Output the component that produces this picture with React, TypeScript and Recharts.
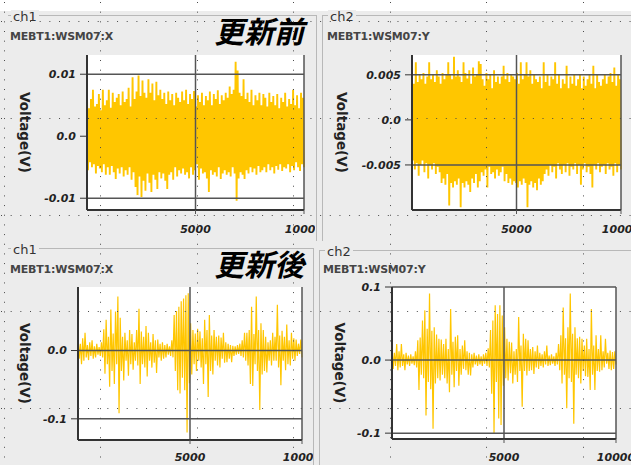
import React from 'react';
import { LineChart, Line, XAxis, YAxis, ReferenceLine, Label, CartesianGrid } from 'recharts';

// shared x axis (sample number)
const xTicks = [5000, 10000];
const xTickLabels = ['5000', '10000'];

// 更新前 ch1 MEBT1:WSM07:X  - upper / lower envelope of each pixel column (V)
const preXHi = [
  0.0070, 0.0045, 0.0060, 0.0075, 0.0048, 0.0052, 0.0068, 0.0042, 0.0075, 0.0050,
  0.0058, 0.0075, 0.0046, 0.0070, 0.0055, 0.0062, 0.0068, 0.0050, 0.0072, 0.0055,
  0.0060, 0.0078, 0.0048, 0.0095, 0.0060, 0.0072, 0.0098, 0.0065, 0.0090, 0.0070,
  0.0062, 0.0092, 0.0070, 0.0085, 0.0058, 0.0088, 0.0066, 0.0075, 0.0060, 0.0070,
  0.0052, 0.0072, 0.0058, 0.0068, 0.0050, 0.0070, 0.0062, 0.0055, 0.0072, 0.0058,
  0.0075, 0.0052, 0.0068, 0.0060, 0.0073, 0.0048, 0.0066, 0.0055, 0.0070, 0.0050,
  0.0065, 0.0058, 0.0072, 0.0050, 0.0068, 0.0060, 0.0074, 0.0052, 0.0066, 0.0058,
  0.0070, 0.0062, 0.0080, 0.0068, 0.0075, 0.0120, 0.0106, 0.0070, 0.0065, 0.0092,
  0.0060, 0.0070, 0.0055, 0.0075, 0.0050, 0.0066, 0.0058, 0.0070, 0.0050, 0.0068,
  0.0062, 0.0048, 0.0070, 0.0055, 0.0065, 0.0050, 0.0068, 0.0045, 0.0062, 0.0055,
  0.0070, 0.0048, 0.0060, 0.0052, 0.0075, 0.0050, 0.0066, 0.0045, 0.0070, 0.0062,
];
const preXLo = [
  -0.0055, -0.0042, -0.0050, -0.0045, -0.0060, -0.0048, -0.0052, -0.0058, -0.0045, -0.0062,
  -0.0050, -0.0062, -0.0048, -0.0058, -0.0069, -0.0052, -0.0060, -0.0050, -0.0065, -0.0055,
  -0.0062, -0.0050, -0.0070, -0.0058, -0.0082, -0.0095, -0.0065, -0.0098, -0.0072, -0.0088,
  -0.0060, -0.0075, -0.0090, -0.0062, -0.0070, -0.0085, -0.0058, -0.0068, -0.0060, -0.0072,
  -0.0085, -0.0062, -0.0058, -0.0070, -0.0050, -0.0065, -0.0055, -0.0060, -0.0052, -0.0062,
  -0.0058, -0.0068, -0.0050, -0.0062, -0.0055, -0.0045, -0.0070, -0.0052, -0.0060, -0.0058,
  -0.0068, -0.0090, -0.0055, -0.0062, -0.0058, -0.0065, -0.0050, -0.0069, -0.0060, -0.0055,
  -0.0062, -0.0058, -0.0065, -0.0050, -0.0060, -0.0104, -0.0068, -0.0058, -0.0062, -0.0069,
  -0.0055, -0.0060, -0.0050, -0.0058, -0.0052, -0.0062, -0.0048, -0.0058, -0.0055, -0.0050,
  -0.0058, -0.0045, -0.0055, -0.0050, -0.0060, -0.0048, -0.0054, -0.0045, -0.0056, -0.0050,
  -0.0052, -0.0045, -0.0058, -0.0048, -0.0055, -0.0042, -0.0050, -0.0056, -0.0045, -0.0050,
];
const preXTicks = [-0.01, 0, 0.01];
const preXTickLabels = ['-0.01', '0.0', '0.01'];

// 更新前 ch2 MEBT1:WSM07:Y
const preYHi = [
  0.0045, 0.0040, 0.0064, 0.0042, 0.0050, 0.0045, 0.0052, 0.0040, 0.0048, 0.0064,
  0.0045, 0.0050, 0.0042, 0.0055, 0.0048, 0.0040, 0.0052, 0.0045, 0.0050, 0.0064,
  0.0050, 0.0045, 0.0070, 0.0048, 0.0055, 0.0048, 0.0042, 0.0064, 0.0052, 0.0046,
  0.0055, 0.0040, 0.0058, 0.0048, 0.0050, 0.0065, 0.0062, 0.0045, 0.0038, 0.0052,
  0.0045, 0.0050, 0.0035, 0.0055, 0.0042, 0.0048, 0.0040, 0.0048, 0.0060, 0.0045,
  0.0052, 0.0042, 0.0050, 0.0048, 0.0045, 0.0052, 0.0040, 0.0064, 0.0045, 0.0050,
  0.0064, 0.0048, 0.0055, 0.0040, 0.0050, 0.0045, 0.0042, 0.0048, 0.0035, 0.0064,
  0.0042, 0.0050, 0.0038, 0.0048, 0.0045, 0.0064, 0.0040, 0.0050, 0.0035, 0.0045,
  0.0040, 0.0060, 0.0035, 0.0048, 0.0040, 0.0050, 0.0038, 0.0045, 0.0050, 0.0035,
  0.0048, 0.0038, 0.0045, 0.0050, 0.0040, 0.0060, 0.0035, 0.0050, 0.0042, 0.0038,
  0.0045, 0.0050, 0.0040, 0.0048, 0.0052, 0.0042, 0.0058, 0.0038, 0.0050, 0.0045,
];
const preYLo = [
  -0.0045, -0.0055, -0.0048, -0.0062, -0.0050, -0.0045, -0.0058, -0.0048, -0.0065, -0.0050,
  -0.0055, -0.0048, -0.0060, -0.0052, -0.0058, -0.0070, -0.0065, -0.0072, -0.0060, -0.0095,
  -0.0070, -0.0075, -0.0068, -0.0072, -0.0065, -0.0097, -0.0070, -0.0075, -0.0068, -0.0072,
  -0.0080, -0.0065, -0.0070, -0.0060, -0.0075, -0.0068, -0.0058, -0.0062, -0.0055, -0.0075,
  -0.0052, -0.0060, -0.0058, -0.0065, -0.0055, -0.0062, -0.0058, -0.0052, -0.0068, -0.0060,
  -0.0070, -0.0065, -0.0072, -0.0068, -0.0070, -0.0075, -0.0068, -0.0072, -0.0065, -0.0070,
  -0.0097, -0.0072, -0.0068, -0.0075, -0.0070, -0.0078, -0.0065, -0.0072, -0.0068, -0.0060,
  -0.0055, -0.0062, -0.0050, -0.0058, -0.0052, -0.0065, -0.0048, -0.0055, -0.0060, -0.0050,
  -0.0058, -0.0048, -0.0062, -0.0052, -0.0055, -0.0048, -0.0060, -0.0050, -0.0072, -0.0055,
  -0.0048, -0.0058, -0.0052, -0.0060, -0.0075, -0.0050, -0.0055, -0.0048, -0.0058, -0.0052,
  -0.0050, -0.0060, -0.0048, -0.0055, -0.0052, -0.0062, -0.0048, -0.0058, -0.0050, -0.0055,
];
const preYTicks = [-0.005, 0, 0.005];
const preYTickLabels = ['-0.005', '0.0', '0.005'];

// 更新後 ch1 MEBT1:WSM07:X
const postXHi = [
  0.022, 0.010, 0.018, 0.026, 0.008, 0.012, 0.015, 0.006, 0.010, 0.005,
  0.012, 0.031, 0.045, 0.020, 0.060, 0.025, 0.057, 0.079, 0.048, 0.020,
  0.026, 0.015, 0.030, 0.024, 0.012, 0.030, 0.061, 0.028, 0.020, 0.036,
  0.026, 0.012, 0.024, 0.015, 0.016, 0.010, 0.012, 0.008, 0.010, 0.006,
  0.015, 0.052, 0.058, 0.064, 0.072, 0.076, 0.081, 0.084, 0.040, 0.030,
  0.025, 0.032, 0.028, 0.018, 0.045, 0.030, 0.052, 0.022, 0.030, 0.020,
  0.022, 0.019, 0.026, 0.012, 0.010, 0.008, 0.007, 0.006, 0.008, 0.010,
  0.015, 0.026, 0.026, 0.030, 0.064, 0.024, 0.079, 0.030, 0.040, 0.030,
  0.020, 0.012, 0.015, 0.026, 0.020, 0.067, 0.022, 0.029, 0.020, 0.038,
  0.015, 0.026, 0.018, 0.016, 0.010, 0.016,
];
const postXLo = [
  -0.012, -0.020, -0.015, -0.010, -0.014, -0.008, -0.012, -0.010, -0.006, -0.008,
  -0.010, -0.034, -0.020, -0.053, -0.030, -0.049, -0.020, -0.092, -0.030, -0.044,
  -0.015, -0.037, -0.020, -0.028, -0.015, -0.022, -0.049, -0.020, -0.025, -0.038,
  -0.015, -0.025, -0.018, -0.033, -0.010, -0.015, -0.012, -0.010, -0.006, -0.008,
  -0.010, -0.030, -0.058, -0.063, -0.040, -0.058, -0.120, -0.048, -0.035, -0.020,
  -0.030, -0.015, -0.025, -0.049, -0.020, -0.068, -0.030, -0.035, -0.015, -0.022,
  -0.025, -0.012, -0.018, -0.017, -0.012, -0.017, -0.008, -0.006, -0.005, -0.008,
  -0.010, -0.015, -0.022, -0.049, -0.052, -0.020, -0.030, -0.087, -0.035, -0.030,
  -0.032, -0.015, -0.022, -0.015, -0.015, -0.025, -0.051, -0.015, -0.029, -0.020,
  -0.022, -0.012, -0.015, -0.008, -0.005, -0.010,
];
const postXTicks = [-0.1, 0];
const postXTickLabels = ['-0.1', '0.0'];

// 更新後 ch2 MEBT1:WSM07:Y
const postYHi = [
  0.018, 0.010, 0.022, 0.012, 0.022, 0.008, 0.010, 0.006, 0.008, 0.005,
  0.012, 0.027, 0.031, 0.054, 0.068, 0.043, 0.091, 0.040, 0.045, 0.035,
  0.029, 0.028, 0.022, 0.029, 0.015, 0.070, 0.025, 0.032, 0.034, 0.015,
  0.020, 0.027, 0.012, 0.010, 0.008, 0.010, 0.006, 0.008, 0.005, 0.008,
  0.010, 0.016, 0.041, 0.054, 0.075, 0.063, 0.075, 0.061, 0.045, 0.029,
  0.025, 0.024, 0.012, 0.015, 0.059, 0.020, 0.036, 0.029, 0.027, 0.015,
  0.018, 0.012, 0.020, 0.010, 0.008, 0.012, 0.020, 0.006, 0.008, 0.005,
  0.010, 0.022, 0.034, 0.072, 0.030, 0.045, 0.091, 0.036, 0.045, 0.030,
  0.032, 0.029, 0.020, 0.029, 0.015, 0.070, 0.020, 0.034, 0.015, 0.034,
  0.012, 0.029, 0.010, 0.013, 0.011, 0.012,
];
const postYLo = [
  -0.012, -0.008, -0.014, -0.010, -0.008, -0.014, -0.006, -0.008, -0.005, -0.007,
  -0.010, -0.041, -0.020, -0.025, -0.076, -0.030, -0.040, -0.094, -0.032, -0.025,
  -0.028, -0.020, -0.025, -0.032, -0.044, -0.020, -0.037, -0.015, -0.035, -0.020,
  -0.012, -0.014, -0.020, -0.021, -0.010, -0.006, -0.008, -0.006, -0.008, -0.005,
  -0.008, -0.010, -0.046, -0.100, -0.030, -0.080, -0.089, -0.035, -0.025, -0.028,
  -0.018, -0.032, -0.020, -0.030, -0.015, -0.064, -0.015, -0.021, -0.015, -0.014,
  -0.019, -0.010, -0.012, -0.008, -0.010, -0.006, -0.008, -0.007, -0.005, -0.008,
  -0.006, -0.014, -0.032, -0.020, -0.066, -0.025, -0.030, -0.087, -0.020, -0.025,
  -0.032, -0.015, -0.022, -0.023, -0.041, -0.020, -0.041, -0.015, -0.016, -0.014,
  -0.010, -0.005, -0.012, -0.014, -0.012, -0.006,
];
const postYTicks = [-0.1, 0, 0.1];
const postYTickLabels = ['-0.1', '0.0', '0.1'];

const TRACE = '#ffc600';
const GRID = '#555';
const FONT = '"DejaVu Sans", Verdana, sans-serif';

// hi/lo columns -> zigzag trace spanning 0..10000 samples
const buildTrace = (hi: number[], lo: number[]) => {
  const step = 10000 / (hi.length - 0.5);
  const out: { t: number; v: number }[] = [];
  hi.forEach((h, i) => {
    out.push({ t: i * step, v: h });
    out.push({ t: (i + 0.5) * step, v: lo[i] });
  });
  return out;
};

const tickStyle = { fill: '#222', fontSize: 11, fontWeight: 'bold', fontStyle: 'italic', fontFamily: FONT };

const VoltLabel = ({ viewBox, dx }: any) => {
  const x = viewBox.x + dx;
  const y = viewBox.y + viewBox.height / 2;
  return (
    <text
      x={x}
      y={y}
      transform={`rotate(90 ${x} ${y})`}
      textAnchor="middle"
      dominantBaseline="central"
      fill="#222"
      fontSize={13.5}
      fontWeight="bold"
      fontFamily={FONT}
    >
      Voltage(V)
    </text>
  );
};

interface ScopeProps {
  hi: number[];
  lo: number[];
  yTicks: number[];
  yLabels: string[];
  yGrid: number[];
  yDomain: [number, number];
  left: number;
  top: number;
  width: number;
  height: number;
  yWidth: number;
  right: number;
  xTickMargin: number;
  labelDx: number;
  traceWidth: number;
}

const Scope: React.FC<ScopeProps> = ({ hi, lo, yTicks, yLabels, yGrid, yDomain, left, top, width, height, yWidth, right, xTickMargin, labelDx, traceWidth }) => (
  <div style={{ position: 'absolute', left, top }}>
    <LineChart width={width} height={height} data={buildTrace(hi, lo)} margin={{ top: 5, right, left: 0, bottom: 0 }}>
      <CartesianGrid horizontal={false} vertical={false} fill="#fff" />
      <XAxis
        type="number"
        dataKey="t"
        domain={[0, 10000]}
        ticks={xTicks}
        interval={0}
        tickFormatter={(v: number) => xTickLabels[xTicks.indexOf(v)]}
        height={30}
        tickSize={4}
        tickMargin={xTickMargin}
        tick={tickStyle}
        axisLine={{ stroke: '#333', strokeWidth: 2 }}
        tickLine={{ stroke: GRID }}
      />
      <YAxis
        type="number"
        domain={yDomain}
        allowDataOverflow
        ticks={yTicks}
        interval={0}
        tickFormatter={(v: number) => yLabels[yTicks.indexOf(v)]}
        width={yWidth}
        tickSize={7}
        tickMargin={4}
        tick={tickStyle}
        axisLine={{ stroke: '#333', strokeWidth: 2 }}
        tickLine={{ stroke: '#333' }}
      >
        <Label content={(p: any) => <VoltLabel {...p} dx={labelDx} />} />
      </YAxis>
      <Line type="linear" dataKey="v" stroke={TRACE} strokeWidth={traceWidth} dot={false} isAnimationActive={false} />
      {yGrid.map((v) => (
        <ReferenceLine key={`y${v}`} y={v} stroke={GRID} strokeWidth={1.5} />
      ))}
      {xTicks.map((v) => (
        <ReferenceLine key={`x${v}`} x={v} stroke={GRID} strokeWidth={1.5} />
      ))}
    </LineChart>
  </div>
);

const GroupBox = ({ left, top, width, height, side, ch, chLeft, name, nameLeft, nameTop, title }: any) => (
  <>
    <div
      style={{
        position: 'absolute',
        left,
        top,
        width,
        height,
        borderTop: '1px solid #b8b8b8',
        [side === 'left' ? 'borderLeft' : 'borderRight']: '1px solid #b8b8b8',
        boxSizing: 'border-box',
      }}
    />
    <div
      style={{
        position: 'absolute',
        left: chLeft,
        top: top - 5,
        fontSize: 13,
        lineHeight: '14px',
        fontFamily: FONT,
        color: '#333',
        background: '#ececec',
        padding: '0 2px',
      }}
    >
      {ch}
    </div>
    <div
      style={{
        position: 'absolute',
        left: nameLeft,
        top: nameTop,
        fontSize: 11,
        lineHeight: '13px',
        fontWeight: 'bold',
        letterSpacing: -0.2,
        fontFamily: FONT,
        color: '#454545',
        whiteSpace: 'nowrap',
      }}
    >
      {name}
    </div>
    {title && (
      <div
        style={{
          position: 'absolute',
          left: 214,
          top: top,
          fontSize: 30,
          lineHeight: '30px',
          fontWeight: 'bold',
          fontStyle: 'italic',
          fontFamily: '"Noto Sans CJK JP", sans-serif',
          color: '#000',
          whiteSpace: 'nowrap',
        }}
      >
        {title}
      </div>
    )}
  </>
);

// dotted overlay from the screen capture
const DotGrid = () => {
  const rows = [0, 1, 2, 3, 4].map((k) => Math.round(21 + k * 96.75) + 0.5);
  const cols = [0, 1, 2, 3, 4, 5, 6].map((k) => Math.round(3.5 + k * 96.5) + 0.5);
  return (
    <svg width={631} height={465} style={{ position: 'absolute', left: 0, top: 0, pointerEvents: 'none' }}>
      {rows.map((y) => (
        <line key={`r${y}`} x1={1} x2={631} y1={y} y2={y} stroke="#4a4a4a" strokeWidth={1} strokeDasharray="1 8.67" />
      ))}
      {cols.map((x) => (
        <line key={`c${x}`} x1={x} x2={x} y1={2} y2={465} stroke="#4a4a4a" strokeWidth={1} strokeDasharray="1 8.67" />
      ))}
    </svg>
  );
};

export default function App() {
  return (
    <div
      style={{
        position: 'fixed',
        left: 0,
        top: 0,
        width: 631,
        height: 465,
        overflow: 'hidden',
        background: '#ececec',
      }}
    >
      <div style={{ position: 'absolute', left: 0, top: 0, width: 631, height: 11, background: '#fff' }} />

      <GroupBox left={8} top={15} width={309} height={226} side="right" ch="ch1" chLeft={11} name="MEBT1:WSM07:X" nameLeft={10} nameTop={30} title="更新前" />
      <GroupBox left={322} top={15} width={330} height={226} side="left" ch="ch2" chLeft={328} name="MEBT1:WSM07:Y" nameLeft={327} nameTop={30} />
      <GroupBox left={8} top={248} width={306} height={230} side="right" ch="ch1" chLeft={11} name="MEBT1:WSM07:X" nameLeft={10} nameTop={263} title="更新後" />
      <GroupBox left={319} top={250} width={330} height={230} side="left" ch="ch2" chLeft={325} name="MEBT1:WSM07:Y" nameLeft={323} nameTop={263} />

      <Scope hi={preXHi} lo={preXLo} yTicks={preXTicks} yLabels={preXTickLabels} yGrid={[-0.01, 0.01]} yDomain={[-0.0119, 0.0131]}
        left={10} top={50} width={305} height={190} yWidth={77} right={11} xTickMargin={11} labelDx={15} traceWidth={1.9} />
      <Scope hi={preYHi} lo={preYLo} yTicks={preYTicks} yLabels={preYTickLabels} yGrid={[-0.005, 0.005]} yDomain={[-0.01, 0.0072]}
        left={330} top={50} width={301} height={190} yWidth={82} right={10} xTickMargin={11} labelDx={11.5} traceWidth={1.9} />
      <Scope hi={postXHi} lo={postXLo} yTicks={postXTicks} yLabels={postXTickLabels} yGrid={postXTicks} yDomain={[-0.131, 0.093]}
        left={10} top={282} width={303} height={188} yWidth={68} right={11} xTickMargin={9} labelDx={14.5} traceWidth={1.2} />
      <Scope hi={postYHi} lo={postYLo} yTicks={postYTicks} yLabels={postYTickLabels} yGrid={postYTicks} yDomain={[-0.108, 0.1]}
        left={322} top={282} width={309} height={187} yWidth={70} right={15} xTickMargin={10} labelDx={17.5} traceWidth={1.2} />

      <DotGrid />
    </div>
  );
}
